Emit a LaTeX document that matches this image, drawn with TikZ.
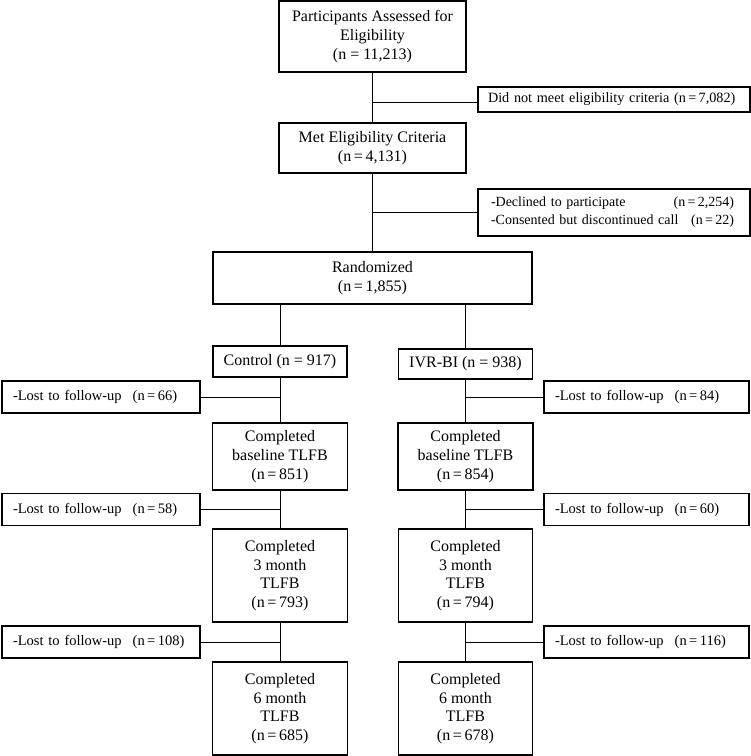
\documentclass[tikz,border=0pt]{standalone}
\usepackage{fontspec}
\setmainfont{Liberation Serif}
\usetikzlibrary{positioning}
\tikzset{
  caja/.style={draw,line width=1.2pt,align=center,inner sep=0pt,font=\fontsize{16}{18.7}\selectfont},
  cajaexcl/.style={caja,align=left,inner xsep=10pt,text width=252pt,font=\fontsize{14}{18}\selectfont},
  cajaperd/.style={caja,align=left,inner xsep=11pt,minimum height=32pt,font=\fontsize{14.5}{17}\selectfont},
  linea/.style={line width=1pt},
}
\newcommand{\nn}[1]{(n\,=\,#1)}
\newcommand{\renglon}[2]{\makebox[243pt][l]{#1\hfill#2}}

\begin{document}
\begin{tikzpicture}[x=1pt,y=-1pt]
  \useasboundingbox (0,0) rectangle (751,756);
  % tronco comun
  \node[caja,minimum width=187pt,minimum height=71pt] (evaluados) at (372.5,36.5) {Participants Assessed for\\Eligibility\\(n = 11,213)};
  \node[cajaexcl,minimum height=25pt,font=\fontsize{14.2}{18}\selectfont] (noelig) at (614,99.5) {Did not meet eligibility criteria \nn{7,082}};
  \node[caja,minimum width=187pt,minimum height=50pt] (elegibles) at (372.5,148) {Met Eligibility Criteria\\\nn{4,131}};
  \node[cajaexcl,minimum height=47pt,inner xsep=13pt,text width=246pt] (rechazo) at (614,212.5) {\renglon{-Declined to participate}{\nn{2,254}}\\\renglon{-Consented but discontinued call}{\nn{22}}};
  \node[caja,minimum width=319pt,minimum height=52pt] (aleat) at (372.5,278) {Randomized\\\nn{1,855}};
  % ramas
  \node[caja,minimum width=134pt,minimum height=31pt] (control) at (280,361.5) {Control (n = 917)};
  \node[caja,minimum width=134pt,minimum height=30pt] (ivr) at (465.5,364) {IVR-BI (n = 938)};
  \node[cajaperd,text width=176pt] (perdc0) at (101,397) {-Lost to follow-up\hspace{11pt}\nn{66}};
  \node[cajaperd,text width=183pt] (perdi0) at (646.5,397) {-Lost to follow-up\hspace{11pt}\nn{84}};
  \node[caja,minimum width=135pt,minimum height=67pt] (basec) at (280,456.5) {Completed\\baseline TLFB\\\nn{851}};
  \node[caja,minimum width=135pt,minimum height=67pt] (basei) at (465.5,456.5) {Completed\\baseline TLFB\\\nn{854}};
  \node[cajaperd,text width=176pt] (perdc1) at (101,509.5) {-Lost to follow-up\hspace{11pt}\nn{58}};
  \node[cajaperd,text width=183pt] (perdi1) at (646.5,509.5) {-Lost to follow-up\hspace{11pt}\nn{60}};
  \node[caja,minimum width=135pt,minimum height=93pt] (tresc) at (280,575.5) {Completed\\3 month\\TLFB\\\nn{793}};
  \node[caja,minimum width=134pt,minimum height=93pt] (tresi) at (465.5,575.5) {Completed\\3 month\\TLFB\\\nn{794}};
  \node[cajaperd,text width=176pt] (perdc2) at (101,642) {-Lost to follow-up\hspace{11pt}\nn{108}};
  \node[cajaperd,text width=183pt] (perdi2) at (646.5,642) {-Lost to follow-up\hspace{11pt}\nn{116}};
  \node[caja,minimum width=135pt,minimum height=93pt] (seisc) at (280,708.5) {Completed\\6 month\\TLFB\\\nn{685}};
  \node[caja,minimum width=134pt,minimum height=93pt] (seisi) at (465.5,708.5) {Completed\\6 month\\TLFB\\\nn{678}};
  % conectores
  \draw[linea] (evaluados) -- (elegibles);
  \draw[linea] (elegibles) -- (aleat);
  \draw[linea] ([yshift=-2.5pt]noelig.west) -- ([yshift=-2.5pt]noelig.west -| evaluados.south);
  \draw[linea] (rechazo.west) -- (rechazo.west -| elegibles.south);
  \draw[linea] (aleat.south -| control.north) -- (control.north);
  \draw[linea] (aleat.south -| ivr.north) -- (ivr.north);
  \draw[linea] (control) -- (basec);
  \draw[linea] (basec) -- (tresc);
  \draw[linea] (tresc) -- (seisc);
  \draw[linea] (ivr) -- (basei);
  \draw[linea] (basei) -- (tresi);
  \draw[linea] (tresi) -- (seisi);
  \draw[linea] (perdc0.east) -- (perdc0.east -| control.south);
  \draw[linea] (perdc1.east) -- (perdc1.east -| basec.south);
  \draw[linea] (perdc2.east) -- (perdc2.east -| tresc.south);
  \draw[linea] (perdi0.west) -- (perdi0.west -| ivr.south);
  \draw[linea] (perdi1.west) -- (perdi1.west -| basei.south);
  \draw[linea] (perdi2.west) -- (perdi2.west -| tresi.south);
\end{tikzpicture}
\end{document}
